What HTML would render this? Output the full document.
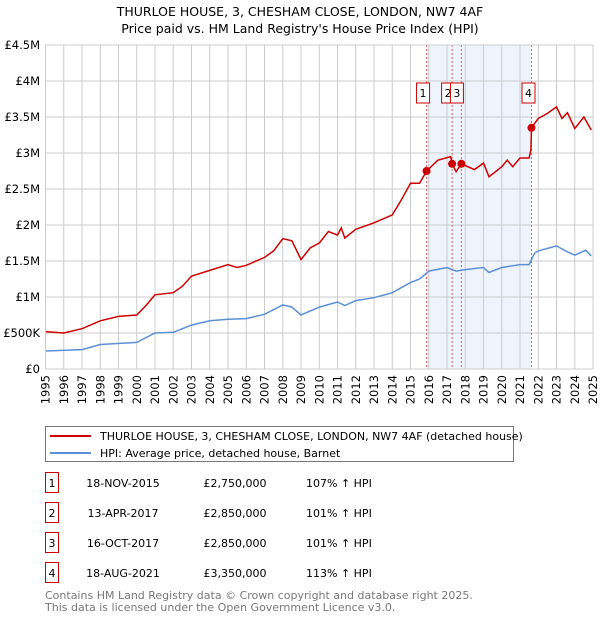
<!DOCTYPE html>
<html><head><meta charset="utf-8"><style>
body{margin:0;background:#fff;font-family:"DejaVu Sans","Liberation Sans",sans-serif;}
svg text{font-family:"DejaVu Sans","Liberation Sans",sans-serif;}
</style></head><body>
<svg id="chart" width="600" height="620" xmlns="http://www.w3.org/2000/svg">
<text x="300" y="16" text-anchor="middle" font-size="12.5">THURLOE HOUSE, 3, CHESHAM CLOSE, LONDON, NW7 4AF</text>
<text x="300" y="33" text-anchor="middle" font-size="12.5">Price paid vs. HM Land Registry's House Price Index (HPI)</text>
<g id="grid"></g>
<g id="marks"></g>
<g id="axes"></g>
<g>
<rect x="45.5" y="426.5" width="468" height="35" fill="#fff" stroke="#777"/>
<line x1="50" y1="436" x2="91" y2="436" stroke="#cc0000" stroke-width="2"/>
<text x="100" y="440" font-size="11">THURLOE HOUSE, 3, CHESHAM CLOSE, LONDON, NW7 4AF (detached house)</text>
<line x1="50" y1="453" x2="91" y2="453" stroke="#5b8fd6" stroke-width="2"/>
<text x="100" y="457" font-size="11">HPI: Average price, detached house, Barnet</text>
</g>
<g id="table"></g>
<text x="45" y="599" font-size="11" fill="#777">Contains HM Land Registry data © Crown copyright and database right 2025.</text>
<text x="45" y="611" font-size="11" fill="#777">This data is licensed under the Open Government Licence v3.0.</text>
</svg>
<script>
const redYears=[1995,1996,1997,1998,1999,2000,2000.5,2001,2002,2002.5,2003,2004,2005,2005.5,2006,2007,2007.5,2008,2008.5,2009,2009.5,2010,2010.5,2011,2011.2,2011.4,2012,2013,2014,2014.5,2015,2015.5,2015.88,2016.5,2017.2,2017.28,2017.5,2017.79,2018.5,2019,2019.3,2020,2020.3,2020.6,2021,2021.5,2021.6,2021.63,2022,2022.5,2023,2023.3,2023.6,2024,2024.5,2024.9];
const redValues=[0.52,0.50,0.56,0.67,0.73,0.75,0.88,1.03,1.06,1.15,1.29,1.37,1.45,1.41,1.44,1.55,1.64,1.81,1.78,1.52,1.68,1.75,1.91,1.86,1.96,1.82,1.94,2.03,2.14,2.35,2.58,2.58,2.75,2.90,2.95,2.85,2.74,2.85,2.77,2.86,2.67,2.81,2.90,2.81,2.93,2.93,3.04,3.35,3.48,3.55,3.64,3.48,3.56,3.34,3.50,3.32];
const hpiYears=[1995,1997,1998,2000,2001,2002,2003,2004,2005,2006,2007,2008,2008.5,2009,2010,2011,2011.4,2012,2013,2014,2015,2015.5,2016,2017,2017.5,2018,2019,2019.3,2020,2021,2021.5,2021.8,2022,2023,2023.5,2024,2024.6,2024.9];
const hpiValues=[0.25,0.27,0.34,0.37,0.50,0.51,0.61,0.67,0.69,0.70,0.76,0.89,0.86,0.75,0.86,0.93,0.88,0.95,0.99,1.06,1.20,1.25,1.36,1.41,1.36,1.38,1.41,1.34,1.41,1.45,1.45,1.61,1.64,1.71,1.64,1.58,1.65,1.57];
const saleLabels=["1","2","3","4"];
const saleYears=[2015.88,2017.28,2017.79,2021.63];
const saleValues=[2.75,2.85,2.85,3.35];
const saleDates=["18-NOV-2015","13-APR-2017","16-OCT-2017","18-AUG-2021"];
const salePrices=["£2,750,000","£2,850,000","£2,850,000","£3,350,000"];
const saleHpi=["107% ↑ HPI","101% ↑ HPI","101% ↑ HPI","113% ↑ HPI"];
const yTicks=[0,0.5,1,1.5,2,2.5,3,3.5,4,4.5];
const yTickLabels=["£0","£500K","£1M","£1.5M","£2M","£2.5M","£3M","£3.5M","£4M","£4.5M"];
const xTicks=[1995,1996,1997,1998,1999,2000,2001,2002,2003,2004,2005,2006,2007,2008,2009,2010,2011,2012,2013,2014,2015,2016,2017,2018,2019,2020,2021,2022,2023,2024,2025];

const X0=45.5,X1=593,Y0=369,Y1=45;
const xS=y=>X0+(y-1995)/30*(X1-X0);
const yS=v=>Y0-v/4.5*(Y0-Y1);
const NS="http://www.w3.org/2000/svg";
function mk(tag,attrs,parent,txt){const e=document.createElementNS(NS,tag);for(const k in attrs)e.setAttribute(k,attrs[k]);if(txt!==undefined)e.textContent=txt;parent.appendChild(e);return e;}
const grid=document.getElementById('grid'),marks=document.getElementById('marks'),axes=document.getElementById('axes'),table=document.getElementById('table');
let sh=mk('rect',{x:xS(saleYears[0]),y:Y1,width:xS(saleYears[3])-xS(saleYears[0]),height:Y0-Y1,fill:'#eef3fc'},grid);


xTicks.forEach(t=>{
 let l=mk('line',{x1:xS(t),x2:xS(t),y1:Y1,y2:Y0,stroke:'#cccccc','stroke-width':1},grid);
 
 
 const tx0=xS(t)+4,ty0=375;
 let tx=mk('text',{x:tx0,y:ty0,'text-anchor':'end','font-size':11.5,transform:`rotate(-90 ${tx0} ${ty0})`},axes,String(t));
 
 
});
yTicks.forEach((t,i)=>{
 let l=mk('line',{x1:X0,x2:X1,y1:yS(t),y2:yS(t),stroke:'#cccccc','stroke-width':1},grid);
 
 
 let tx=mk('text',{x:40,y:yS(t)+4,'text-anchor':'end','font-size':11.5},axes,yTickLabels[i]);
 
 
});
saleYears.forEach((y,i)=>{
 let l=mk('line',{x1:xS(y),x2:xS(y),y1:Y1,y2:Y0,stroke:'#e06060','stroke-width':1,'stroke-dasharray':'2,2'},marks);
 
 
});
function pts(xs,vs){return xs.map((x,i)=>xS(x).toFixed(1)+','+yS(vs[i]).toFixed(1)).join(' ');}
let hp=mk('polyline',{points:pts(hpiYears,hpiValues),fill:'none',stroke:'#5b8fd6','stroke-width':1.5},marks);


let rp=mk('polyline',{points:pts(redYears,redValues),fill:'none',stroke:'#cc0000','stroke-width':1.5},marks);


const boxOff=[-3.5,-4,-4.5,-3];
saleYears.forEach((y,i)=>{
 let c=mk('circle',{cx:xS(y),cy:yS(saleValues[i]),r:4,fill:'#cc0000'},marks);
 
 
 let bx=xS(y)+boxOff[i];
 let b=mk('rect',{x:bx-6.5,y:83,width:13,height:20,fill:'#fff',stroke:'#cc0000'},marks);
 
 
 let t=mk('text',{x:bx,y:97,'text-anchor':'middle','font-size':11},marks,saleLabels[i]);
 
 
});
mk('rect',{x:X0,y:Y1,width:X1-X0,height:Y0-Y1,fill:'none',stroke:'#cccccc'},axes);
saleLabels.forEach((s,i)=>{
 const cy=483+i*30;
 let b=mk('rect',{x:45.5,y:cy-10.5,width:13,height:20,fill:'#fff',stroke:'#cc0000'},table);
 
 
 mk('text',{x:52,y:cy+4,'text-anchor':'middle','font-size':11},table,s);
 let d=mk('text',{x:123,y:cy+4,'text-anchor':'middle','font-size':11},table,saleDates[i]);
 
 
 let p=mk('text',{x:235,y:cy+4,'text-anchor':'middle','font-size':11},table,salePrices[i]);
 
 
 let h=mk('text',{x:306,y:cy+4,'font-size':11},table,saleHpi[i]);
 
 
});
</script>
</body></html>
